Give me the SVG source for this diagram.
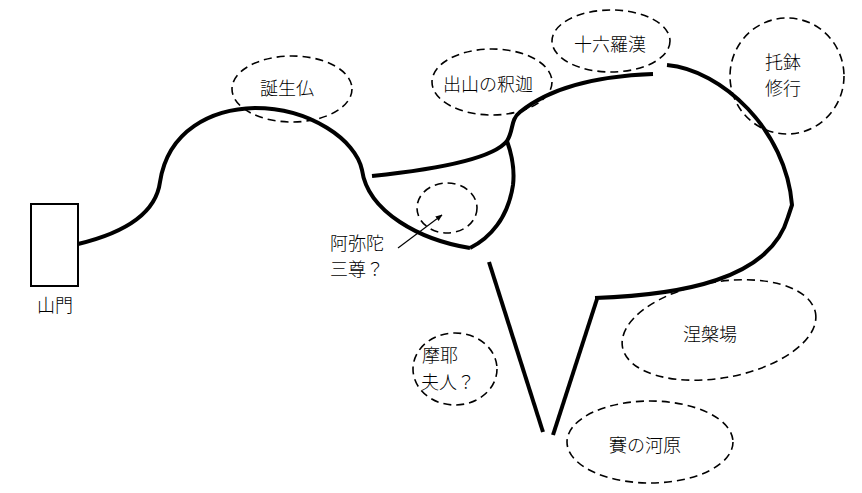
<svg xmlns="http://www.w3.org/2000/svg" width="862" height="493" viewBox="0 0 862 493">
<defs>
<style>
.path{fill:none;stroke:#000;stroke-width:4;stroke-linecap:butt;stroke-linejoin:round}
.ell{fill:none;stroke:#000;stroke-width:1.6;stroke-dasharray:8 5}
.t{font-family:"Noto Sans CJK JP","Noto Sans CJK SC",sans-serif;font-size:18px;font-weight:300;fill:#000;text-anchor:middle;dominant-baseline:central}
</style>
<marker id="ah" viewBox="0 0 10 10" refX="9" refY="5" markerWidth="7" markerHeight="7" orient="auto" markerUnits="userSpaceOnUse">
<path d="M0,1 L10,5 L0,9 z" fill="#000"/>
</marker>
</defs>
<rect width="862" height="493" fill="#fff"/>
<g id="connectors">
<path class="path" d="M78,244 C128,232 156,212 160,182 C168,130 212,109 255,108 C310,108 356,140 362,170 C368,212 420,240 470,248"/>
<path class="path" d="M470,248 C490,238 508,218 513,185 C515,168 512,155 507,141"/>
<path class="path" d="M372,176 C430,170 492,160 507,141 C514,130 510,120 520,112 C552,86 600,76 653,74"/>
<path class="path" d="M667,65 C722,70 786,130 792,205 L788,217 C770,280 680,295 595,298"/>
<path class="path" d="M597,299 L553,435"/>
<path class="path" d="M489,262 L543,432"/>
<line x1="398" y1="248" x2="442" y2="215" stroke="#000" stroke-width="1.2" marker-end="url(#ah)"/>
</g>
<g id="sanmon">
<rect x="31" y="204" width="47" height="82" fill="#fff" stroke="#000" stroke-width="2"/>
<text class="t" x="55" y="304">山門</text>
</g>
<g id="tanjobutsu">
<ellipse class="ell" cx="292" cy="89" rx="60" ry="33"/>
<text class="t" x="287" y="87">誕生仏</text>
</g>
<g id="shussan">
<ellipse class="ell" cx="492" cy="82" rx="60" ry="33"/>
<text class="t" x="488" y="83">出山の釈迦</text>
</g>
<g id="rakan">
<ellipse class="ell" cx="611" cy="41" rx="59" ry="31"/>
<text class="t" x="610" y="43">十六羅漢</text>
</g>
<g id="takuhatsu">
<ellipse class="ell" cx="787" cy="76" rx="57" ry="58"/>
<text class="t" x="783" y="61">托鉢</text>
<text class="t" x="783" y="87">修行</text>
</g>
<g id="amida">
<ellipse class="ell" cx="447" cy="208" rx="30" ry="25"/>
<text class="t" x="357" y="242">阿弥陀</text>
<text class="t" x="357" y="268">三尊？</text>
</g>
<g id="maya">
<ellipse class="ell" cx="455" cy="369" rx="42" ry="36"/>
<text class="t" x="440" y="354">摩耶</text>
<text class="t" x="448" y="381">夫人？</text>
</g>
<g id="nehan">
<ellipse class="ell" cx="719" cy="330" rx="98" ry="48" transform="rotate(-10 719 330)"/>
<text class="t" x="710" y="333">涅槃場</text>
</g>
<g id="sai">
<ellipse class="ell" cx="650" cy="442" rx="83" ry="41"/>
<text class="t" x="645" y="444">賽の河原</text>
</g>
</svg>
